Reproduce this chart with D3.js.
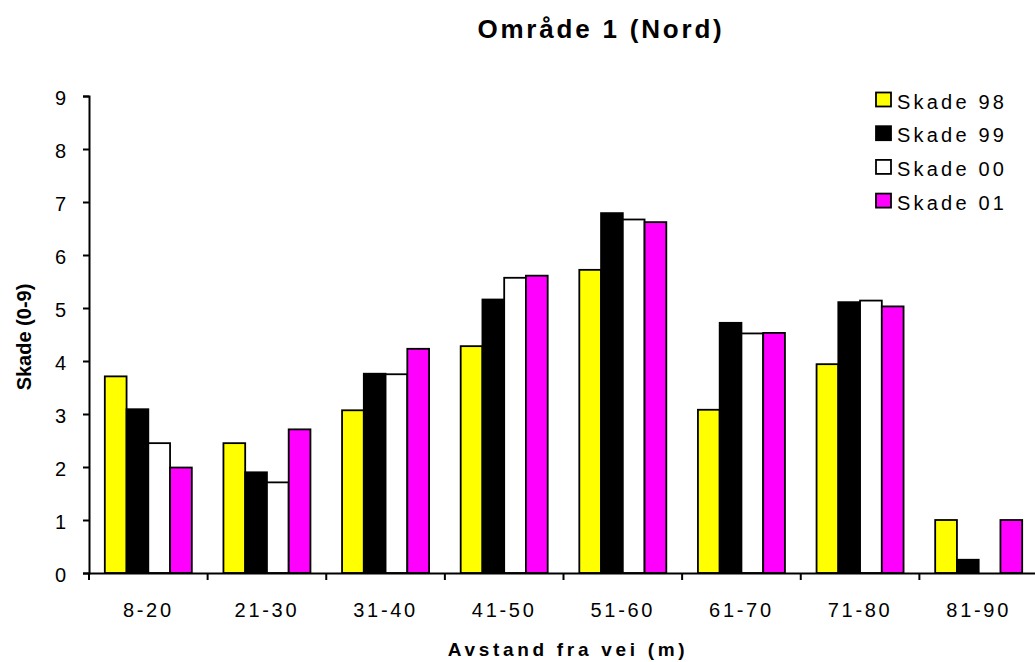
<!DOCTYPE html>
<html>
<head>
<meta charset="utf-8">
<script src="https://cdn.jsdelivr.net/npm/d3@7"></script>
<style>
  body { margin: 0; background: #fff; }
  svg { display: block; font-family: "Liberation Sans", Arial, sans-serif; }
</style>
</head>
<body>
<div id="chart"></div>
<script>
"use strict";

// data
let categories = ["8-20", "21-30", "31-40", "41-50", "51-60", "61-70", "71-80", "81-90"];
let seriesNames = ["Skade 98", "Skade 99", "Skade 00", "Skade 01"];
let skade98 = [3.71, 2.45, 3.07, 4.28, 5.72, 3.08, 3.94, 1.0];
let skade99 = [3.09, 1.90, 3.76, 5.16, 6.79, 4.72, 5.11, 0.25];
let skade00 = [2.45, 1.71, 3.75, 5.57, 6.67, 4.52, 5.14, 0];
let skade01 = [1.99, 2.71, 4.23, 5.61, 6.62, 4.53, 5.03, 1.0];
let yTicks = [0, 1, 2, 3, 4, 5, 6, 7, 8, 9];
let seriesColors = ["#ffff00", "#000000", "#ffffff", "#ff00ff"];

let allSeries = [skade98, skade99, skade00, skade01];

var width = 1035,
    height = 662;

// plot area
var plotLeft = 89,
    plotRight = 1038,
    plotTop = 96,
    plotBottom = 573;

var svg = d3.select('#chart').append('svg')
  .attr('width', width)
  .attr('height', height);

var x0 = d3.scaleBand()
  .domain(categories)
  .range([plotLeft, plotRight])
  .padding(0);

var x1 = d3.scaleBand()
  .domain(d3.range(seriesNames.length))
  .range([0, x0.bandwidth()])
  .paddingInner(0)
  .paddingOuter(0.727);

var y = d3.scaleLinear()
  .domain([0, 9])
  .range([plotBottom, plotTop]);

// bars
var groups = svg.selectAll('g.group')
  .data(categories)
  .enter().append('g')
    .attr('class', 'group')
    .attr('transform', function (d) { return 'translate(' + x0(d) + ',0)'; });

groups.selectAll('rect')
  .data(function (d, i) {
    return allSeries
      .map(function (s, j) { return { s: j, v: s[i] }; })
      .filter(function (b) { return b.v > 0; });
  })
  .enter().append('rect')
    .attr('x', function (d) { return x1(d.s); })
    .attr('width', x1.bandwidth())
    .attr('y', function (d) { return y(d.v); })
    .attr('height', function (d) { return y(0) - y(d.v); })
    .style('fill', function (d) { return seriesColors[d.s]; })
    .style('stroke', '#000')
    .style('stroke-width', 1.8);

// y axis
var yAxis = svg.append('g')
  .attr('transform', 'translate(' + plotLeft + ',0)')
  .call(d3.axisLeft(y).tickValues(yTicks).tickSize(6).tickPadding(17).tickFormat(d3.format('d')));
yAxis.select('.domain').attr('stroke-width', 2);
yAxis.selectAll('.tick line').attr('stroke-width', 2);
yAxis.selectAll('text')
  .style('font-size', '20px')
  .attr('dy', '0.42em')
  .attr('fill', '#000');

// x axis
var xAxis = svg.append('g')
  .attr('transform', 'translate(0,' + plotBottom + ')')
  .call(d3.axisBottom(x0).tickSize(0));
xAxis.select('.domain').attr('stroke-width', 2);
xAxis.selectAll('text')
  .attr('y', 44)
  .attr('dy', 0)
  .style('font-size', '20px')
  .style('letter-spacing', '2.7px')
  .attr('fill', '#000');

// x ticks sit on the category boundaries
xAxis.selectAll('line.bound')
  .data(categories)
  .enter().append('line')
    .attr('class', 'bound')
    .attr('x1', function (d) { return x0(d); })
    .attr('x2', function (d) { return x0(d); })
    .attr('y1', 0)
    .attr('y2', 7)
    .attr('stroke', '#000')
    .attr('stroke-width', 2);

// titles
svg.append('text')
  .attr('x', 601)
  .attr('y', 38)
  .attr('text-anchor', 'middle')
  .style('font-size', '26px')
  .style('font-weight', 'bold')
  .style('letter-spacing', '2.8px')
  .text('Område 1 (Nord)');

svg.append('text')
  .attr('x', 568)
  .attr('y', 656)
  .attr('text-anchor', 'middle')
  .style('font-size', '19px')
  .style('font-weight', 'bold')
  .style('letter-spacing', '3.7px')
  .text('Avstand fra vei (m)');

svg.append('text')
  .attr('transform', 'translate(31,337) rotate(-90)')
  .attr('text-anchor', 'middle')
  .style('font-size', '20px')
  .style('font-weight', 'bold')
  .text('Skade (0-9)');

// legend
var legend = svg.selectAll('g.legend')
  .data(seriesNames)
  .enter().append('g')
    .attr('class', 'legend')
    .attr('transform', function (d, i) { return 'translate(876,' + (108.5 + i * 33.7) + ')'; });

legend.append('rect')
  .attr('y', -16)
  .attr('width', 15)
  .attr('height', 14)
  .style('fill', function (d, i) { return seriesColors[i]; })
  .style('stroke', '#000')
  .style('stroke-width', 1.8);

legend.append('text')
  .attr('x', 21)
  .attr('y', 0)
  .style('font-size', '20px')
  .style('letter-spacing', '3.2px')
  .text(function (d) { return d; });
</script>
</body>
</html>
